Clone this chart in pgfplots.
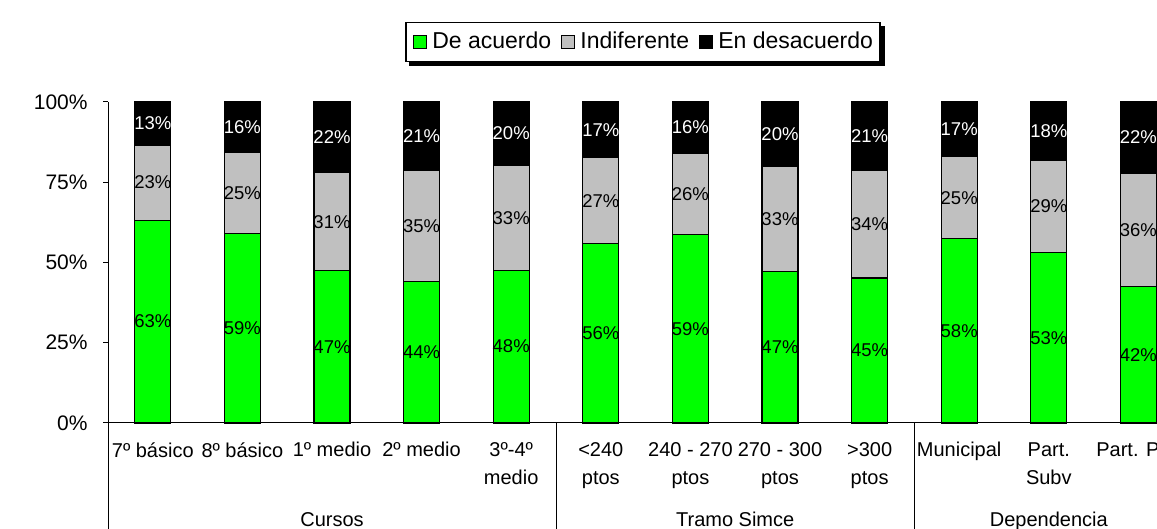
\documentclass[border=0pt]{standalone}
\usepackage{fontspec}
\setmainfont{Liberation Sans}
\usepackage{pgfplots}
\usepackage{pgfplotstable}
\pgfplotsset{compat=1.18}
\usetikzlibrary{backgrounds}
\definecolor{cgreen}{RGB}{0,255,0}
\definecolor{cgray}{RGB}{192,192,192}

\pgfplotstableread{
x g gl s sl b bl
0 63.2 63 23.4 23 13.4 13
1 59.1 59 25.1 25 15.8 16
2 47.4 47 30.6 31 22.0 22
3 44.0 44 34.6 35 21.4 21
4 47.6 48 32.7 33 19.7 20
5 55.8 56 26.8 27 17.4 17
6 58.6 59 25.5 26 15.9 16
7 47.3 47 32.5 33 20.2 20
8 45.2 45 33.5 34 21.3 21
9 57.5 58 25.4 25 17.1 17
10 53.1 53 28.7 29 18.2 18
11 42.4 42 35.5 36 22.1 22
}\datatable

\begin{document}
\begin{tikzpicture}
\begin{axis}[
  at={(54pt,53pt)}, anchor=south west,
  scale only axis, width=537.6pt, height=160.5pt,
  xmin=-0.5, xmax=11.5, ymin=0, ymax=100,
  axis lines=left, axis line style={-, line width=0.5pt},
  clip=false,
  ybar stacked, bar width=18pt,
  xtick={0,...,11},
  xticklabels={{7º básico},{8º básico},{1º medio},{2º medio},{3º-4º\\medio},{<240\\ptos},{240 - 270\\ptos},{270 - 300\\ptos},{>300\\ptos},{Municipal},{Part.\\Subv},{Part. Priv}},
  xticklabel style={anchor=north, align=center, inner sep=0pt, yshift=-7pt, font=\fontsize{10}{14}\selectfont},
  xtick style={draw=none},
  ytick={0,25,50,75,100},
  yticklabel={\pgfmathprintnumber{\tick}\%},
  yticklabel style={anchor=east, inner sep=0pt, xshift=-7.5pt, font=\fontsize{10.5}{12}\selectfont},
  /pgf/number format/assume math mode=true,
  tick align=outside, major tick length=2.5pt,
  ytick style={line width=0.5pt, black},
  point meta=explicit,
  nodes near coords={\pgfmathprintnumber{\pgfplotspointmeta}\%},
  every node near coord/.append style={font=\fontsize{9.25}{11}\selectfont, anchor=center, inner sep=0pt},
  legend style={name=leg, at={(0.4976,1.187)}, anchor=center, legend columns=-1, draw=black, line width=0.6pt, fill=white,
    font=\fontsize{11.5}{13}\selectfont, inner xsep=3.5pt, inner ysep=5pt,
    nodes={inner sep=0pt},
    /tikz/every odd column/.append style={column sep=2.5pt},
    /tikz/every even column/.append style={column sep=5pt}},
]
\addplot[fill=cgreen, draw=black, line width=0.6pt, nodes near coords style={text=black},
  legend image code/.code={\draw[fill=cgreen, draw=black, line width=0.5pt] (0pt,-3.3pt) rectangle (6.6pt,3.3pt);}]
  table[x=x, y=g, meta=gl]{\datatable};
\addplot[fill=cgray, draw=black, line width=0.6pt, nodes near coords style={text=black},
  legend image code/.code={\draw[fill=cgray, draw=black, line width=0.5pt] (0pt,-3.3pt) rectangle (6.6pt,3.3pt);}]
  table[x=x, y=s, meta=sl]{\datatable};
\addplot[fill=black, draw=black, line width=0.6pt, nodes near coords style={text=white},
  legend image code/.code={\draw[fill=black, draw=black, line width=0.5pt] (0pt,-3.3pt) rectangle (6.6pt,3.3pt);}]
  table[x=x, y=b, meta=bl]{\datatable};
\legend{De acuerdo, Indiferente, En desacuerdo}
\draw[line width=0.5pt] (axis cs:-0.5,0) -- ++(0pt,-53pt);
\draw[line width=0.5pt] (axis cs:4.5,0) -- ++(0pt,-53pt);
\draw[line width=0.5pt] (axis cs:8.5,0) -- ++(0pt,-53pt);
\node[anchor=base, inner sep=0pt, font=\fontsize{10}{12}\selectfont] at ([yshift=-52pt]axis cs:2,0) {Cursos};
\node[anchor=base, inner sep=0pt, font=\fontsize{10}{12}\selectfont] at ([yshift=-52pt]axis cs:6.5,0) {Tramo Simce};
\node[anchor=base, inner sep=0pt, font=\fontsize{10}{12}\selectfont] at ([yshift=-52pt]axis cs:10,0) {Dependencia};
\end{axis}
\begin{pgfonlayer}{background}
\fill[black] ([shift={(2pt,-2pt)}]leg.south west) rectangle ([shift={(2pt,-2pt)}]leg.north east);
\end{pgfonlayer}
\pgfresetboundingbox
\useasboundingbox (0,0) rectangle (578.5pt,264.5pt);
\end{tikzpicture}
\end{document}
